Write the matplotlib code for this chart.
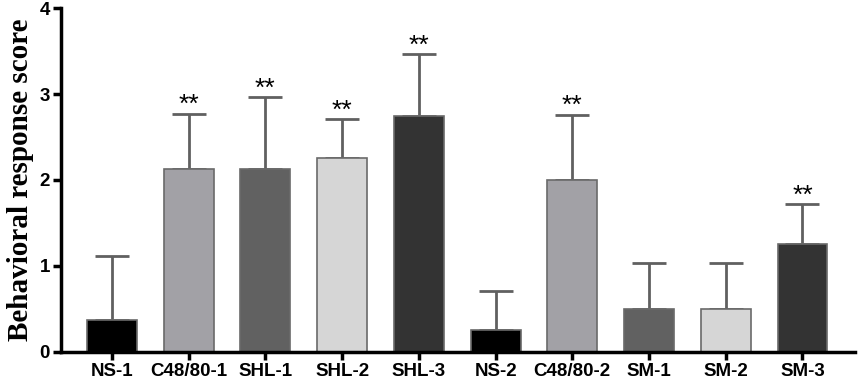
import matplotlib.pyplot as plt
import numpy as np

groups = ['NS-1', 'C48/80-1', 'SHL-1', 'SHL-2', 'SHL-3',
          'NS-2', 'C48/80-2', 'SM-1', 'SM-2', 'SM-3']
means = [0.375, 2.125, 2.125, 2.25, 2.75, 0.25, 2.0, 0.5, 0.5, 1.25]
errors = [0.745, 0.645, 0.835, 0.46, 0.71, 0.46, 0.76, 0.53, 0.53, 0.47]
stars = ['', '**', '**', '**', '**', '', '**', '', '', '**']
colors = ['#000000', '#a2a1a6', '#616161', '#d6d6d6', '#333333',
          '#000000', '#a2a1a6', '#616161', '#d6d6d6', '#333333']

fig = plt.figure(figsize=(8.58, 3.85), dpi=100)
ax = fig.add_axes([0.071, 0.086, 0.926, 0.893])

x = np.arange(len(groups))
ax.bar(x, means, width=0.65, color=colors, edgecolor='#6a6a6a', linewidth=1.2, zorder=2)
ax.errorbar(x, means, yerr=[np.zeros(len(means)), errors], fmt='none',
            ecolor='#606060', elinewidth=2, capsize=12, capthick=2, zorder=1)

for xi, m, e, s in zip(x, means, errors, stars):
    if s:
        ax.text(xi, m + e - 0.04, s, ha='center', va='bottom',
                fontsize=19, family='Liberation Sans', color='black')

ax.set_xlim(-0.665, 9.69)
ax.set_ylim(0, 4)
ax.set_yticks([0, 1, 2, 3, 4])
ax.set_xticks(x)
ax.set_xticklabels(groups)
for lab in ax.get_xticklabels() + ax.get_yticklabels():
    lab.set_fontfamily('Liberation Sans')
    lab.set_fontweight('bold')
    lab.set_fontsize(13.5)

ax.set_ylabel('Behavioral response score', fontsize=21, fontweight='bold',
              family='Liberation Serif', labelpad=4)

for side in ['top', 'right']:
    ax.spines[side].set_visible(False)
for side in ['left', 'bottom']:
    ax.spines[side].set_linewidth(2.5)
ax.tick_params(axis='both', width=2.5, length=6, direction='out', pad=2)

fig.savefig('out.png', dpi=100)
